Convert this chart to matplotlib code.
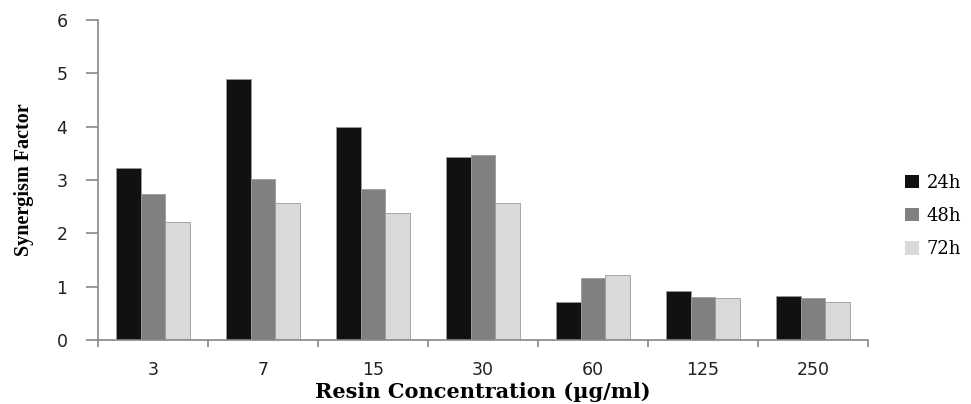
import numpy as np
import matplotlib
matplotlib.use("Agg")
import matplotlib.pyplot as plt

# data
concentrations = ["3", "7", "15", "30", "60", "125", "250"]
series_names = ["24h", "48h", "72h"]
sf_24h = [3.23, 4.90, 4.00, 3.43, 0.72, 0.91, 0.83]
sf_48h = [2.73, 3.01, 2.84, 3.46, 1.17, 0.80, 0.78]
sf_72h = [2.22, 2.56, 2.39, 2.56, 1.22, 0.78, 0.72]
colors = ["#111111", "#808080", "#d9d9d9"]

fig = plt.figure(figsize=(9.71, 4.04), dpi=100)
ax = fig.add_axes([98 / 971, 1 - 340 / 404, 770 / 971, 320 / 404])

x = np.arange(len(concentrations))
width = 1 / 4.5
for i, (vals, name) in enumerate(zip([sf_24h, sf_48h, sf_72h], series_names)):
    ax.bar(x + (i - 1) * width, vals, width, color=colors[i], label=name,
           edgecolor="#9a9a9a", linewidth=0.6)

ax.set_xlim(-0.5, len(concentrations) - 0.5)
ax.set_ylim(0, 6)
ax.set_yticks(range(0, 7))

# category labels at centres, tick marks on the boundaries
ax.set_xticks(x)
ax.set_xticklabels(concentrations)
ax.tick_params(axis="x", which="major", length=0, pad=15, labelsize=12.5, colors="#222222")
ax.set_xticks(np.arange(-0.5, len(concentrations)), minor=True)
ax.tick_params(axis="x", which="minor", length=5, color="#888888", width=1.2)
ax.tick_params(axis="y", length=9, color="#888888", width=1.2, pad=13,
               labelsize=12.5, colors="#222222")

for side in ["top", "right"]:
    ax.spines[side].set_visible(False)
for side in ["left", "bottom"]:
    ax.spines[side].set_color("#888888")
    ax.spines[side].set_linewidth(1.2)

ax.set_xlabel("Resin Concentration (µg/ml)", family="DejaVu Serif", fontweight="bold",
              fontsize=15, labelpad=2)
ax.set_ylabel("Synergism Factor", family="Liberation Serif", fontweight="bold",
              fontsize=14.5, labelpad=16)

leg = fig.legend(loc="center left", bbox_to_anchor=(905 / 971, 1 - 216 / 404),
                 frameon=False, prop={"family": "DejaVu Serif", "size": 13},
                 handlelength=0.75, handleheight=0.75, handletextpad=0.45,
                 labelspacing=0.85, borderaxespad=0, borderpad=0)
for h in leg.legend_handles:
    h.set_edgecolor("none")

fig.savefig("out.png", dpi=100)
